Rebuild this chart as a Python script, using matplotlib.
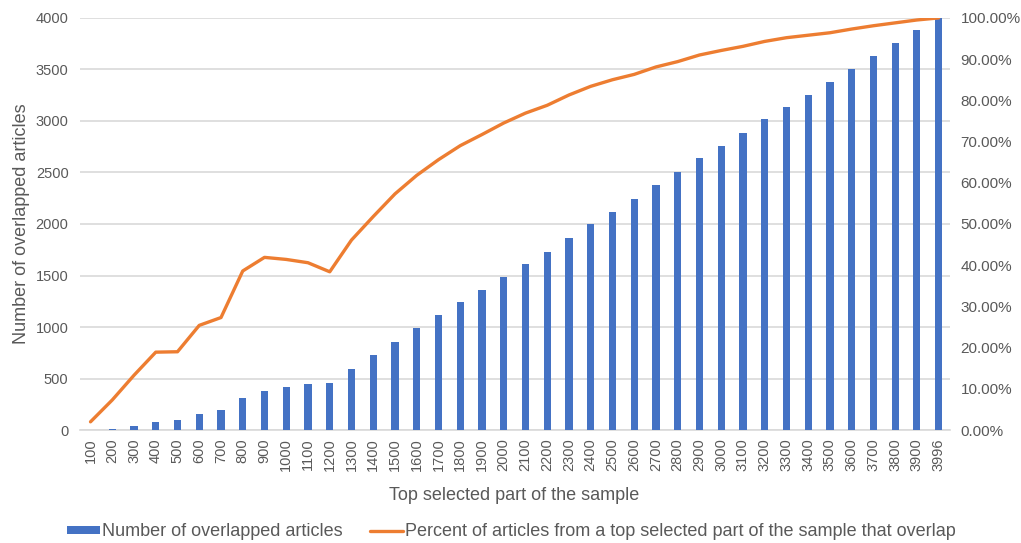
import matplotlib
matplotlib.use("Agg")
import matplotlib.pyplot as plt
from matplotlib.ticker import FuncFormatter, MultipleLocator

categories = ["100", "200", "300", "400", "500", "600", "700", "800", "900", "1000",
              "1100", "1200", "1300", "1400", "1500", "1600", "1700", "1800", "1900", "2000",
              "2100", "2200", "2300", "2400", "2500", "2600", "2700", "2800", "2900", "3000",
              "3100", "3200", "3300", "3400", "3500", "3600", "3700", "3800", "3900", "3996"]

overlapped = [2, 14, 40, 75, 95, 152, 191, 308, 378, 414,
              445, 460, 592, 728, 858, 988, 1118, 1242, 1362, 1490,
              1615, 1726, 1867, 1997, 2118, 2240, 2379, 2502, 2638, 2760,
              2883, 3016, 3136, 3252, 3375, 3505, 3626, 3756, 3880, 3996]

percent = [2.0, 7.3, 13.3, 18.9, 19.0, 25.4, 27.3, 38.6, 41.9, 41.4,
           40.6, 38.4, 46.1, 51.8, 57.3, 61.8, 65.6, 69.0, 71.7, 74.5,
           76.9, 78.8, 81.3, 83.4, 85.0, 86.3, 88.1, 89.4, 91.0, 92.1,
           93.1, 94.3, 95.2, 95.8, 96.4, 97.3, 98.1, 98.8, 99.5, 100.0]

plt.rcParams['font.family'] = ['Liberation Sans', 'DejaVu Sans']
text_color = "#595959"
bar_color = "#4472C4"
line_color = "#ED7D31"
grid_color = "#D9D9D9"

fig = plt.figure(figsize=(10.21, 5.43), dpi=100)
ax = fig.add_axes([0.078, 0.208, 0.852, 0.759])
x = list(range(len(categories)))

bars = ax.bar(x, overlapped, width=0.33, color=bar_color, zorder=3,
              label="Number of overlapped articles")
ax.set_xlim(-0.5, len(categories) - 0.5)
ax.set_ylim(0, 4000)
ax.yaxis.set_major_locator(MultipleLocator(500))
ax.grid(axis='y', color=grid_color, linewidth=1.2, zorder=0)
ax.set_axisbelow(True)
ax.set_xticks(x)
ax.set_xticklabels(categories, rotation=90, fontsize=10.5, color=text_color)
ax.tick_params(axis='y', labelsize=10.5, colors=text_color, length=0, pad=8)
ax.tick_params(axis='x', length=0, pad=6)
for s in ax.spines.values():
    s.set_visible(False)
ax.spines['bottom'].set_visible(True)
ax.spines['bottom'].set_color(grid_color)
ax.spines['bottom'].set_linewidth(1.2)
ax.set_ylabel("Number of overlapped articles", fontsize=13, color=text_color, labelpad=4)
ax.set_xlabel("Top selected part of the sample", fontsize=13, color=text_color, labelpad=11)

ax2 = ax.twinx()
line, = ax2.plot(x, percent, color=line_color, linewidth=2.4, zorder=4,
                 solid_capstyle='round',
                 label="Percent of articles from a top selected part of the sample that overlap")
ax2.set_ylim(0, 100)
ax2.yaxis.set_major_locator(MultipleLocator(10))
ax2.yaxis.set_major_formatter(FuncFormatter(lambda v, p: f"{v:.2f}%"))
ax2.tick_params(axis='y', labelsize=11, colors=text_color, length=0, pad=8)
for s in ax2.spines.values():
    s.set_visible(False)

fig.legend([bars, line], [bars.get_label(), line.get_label()],
           loc='lower center', bbox_to_anchor=(0.501, -0.025), ncol=2, frameon=False,
           fontsize=13, labelcolor=text_color, handlelength=1.8, handleheight=0.35,
           columnspacing=1.5, handletextpad=0.15)

fig.savefig("out.png", dpi=100)
